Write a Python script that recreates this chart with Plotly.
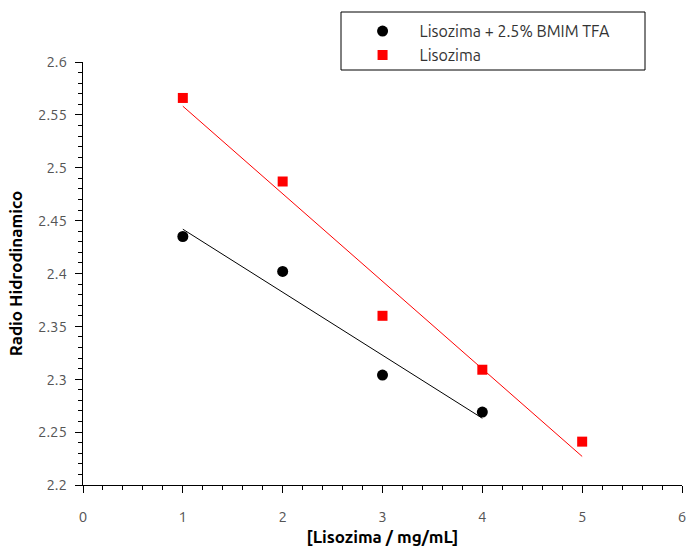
import numpy as np
import plotly.graph_objects as go

# Data
conc_bmim = [1, 2, 3, 4]
radio_bmim = [2.435, 2.402, 2.304, 2.269]
conc_liso = [1, 2, 3, 4, 5]
radio_liso = [2.566, 2.487, 2.360, 2.309, 2.241]

label_bmim = "Lisozima + 2.5% BMIM TFA"
label_liso = "Lisozima"
x_title = "[Lisozima / mg/mL]"
y_title = "Radio Hidrodinamico"

FONT = "Ubuntu, Open Sans, DejaVu Sans, sans-serif"

def fit(x, y):
    p = np.polyfit(x, y, 1)
    xs = np.array([min(x), max(x)], dtype=float)
    return xs, np.polyval(p, xs)

fig = go.Figure()

fx, fy = fit(conc_bmim, radio_bmim)
fig.add_trace(go.Scatter(x=fx, y=fy, mode="lines", line=dict(color="black", width=1),
                         showlegend=False, hoverinfo="skip"))
fx, fy = fit(conc_liso, radio_liso)
fig.add_trace(go.Scatter(x=fx, y=fy, mode="lines", line=dict(color="red", width=1),
                         showlegend=False, hoverinfo="skip"))

fig.add_trace(go.Scatter(x=conc_bmim, y=radio_bmim, mode="markers", name=label_bmim,
                         marker=dict(symbol="circle", color="black", size=11)))
fig.add_trace(go.Scatter(x=conc_liso, y=radio_liso, mode="markers", name=label_liso,
                         marker=dict(symbol="square", color="red", size=10)))

axis_common = dict(showline=True, linecolor="black", linewidth=1, ticks="outside",
                   tickcolor="black", ticklen=7, showgrid=False, zeroline=False,
                   automargin=False, ticklabeloverflow="allow",
                   tickfont=dict(family=FONT, size=15, color="#555555"))

fig.update_xaxes(range=[0, 6], dtick=1, tick0=0,
                 minor=dict(dtick=0.2, ticks="outside", ticklen=4, tickcolor="black"),
                 ticklabelstandoff=11,
                 title=dict(text="<b>" + x_title + "</b>", font=dict(family=FONT, size=17, color="black"), standoff=8),
                 **axis_common)
fig.update_yaxes(range=[2.2, 2.6], dtick=0.05, tick0=2.2,
                 minor=dict(dtick=0.01, ticks="outside", ticklen=4, tickcolor="black"),
                 ticklabelstandoff=5,
                 title=dict(text="<b>" + y_title + "</b>", font=dict(family=FONT, size=17, color="black"), standoff=10),
                 **axis_common)

fig.update_layout(
    width=686, height=546,
    margin=dict(l=83, r=4, t=62, b=61),
    plot_bgcolor="white", paper_bgcolor="white",
    font=dict(family=FONT, size=15, color="#333333"),
    legend=dict(x=0.43, y=1.113, xanchor="left", yanchor="top",
                bgcolor="rgba(0,0,0,0)", borderwidth=0,
                font=dict(family=FONT, size=16, color="#333333"),
                indentation=5, itemwidth=64, tracegroupgap=0),
    shapes=[dict(type="rect", xref="paper", yref="paper",
                 x0=(341 - 83) / 599, x1=(645 - 83) / 599,
                 y0=(485 - 70) / 423, y1=(485 - 12) / 423,
                 line=dict(color="black", width=1), fillcolor="rgba(0,0,0,0)")],
)

fig.write_html("out.html")
